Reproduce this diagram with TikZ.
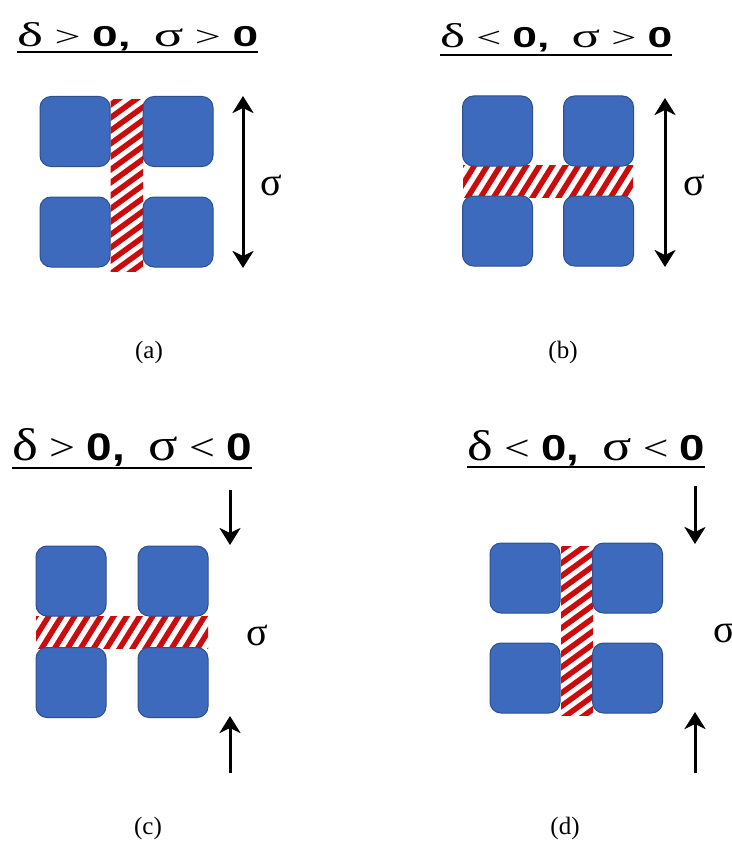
\documentclass[tikz,border=0pt]{standalone}
\usepackage{fontspec}
\setmainfont{Liberation Serif}
\newfontfamily\sansf{Liberation Sans}
\usetikzlibrary{arrows.meta}
\definecolor{sqfill}{RGB}{62,106,190}
\definecolor{sqdraw}{RGB}{45,80,140}
\definecolor{stripered}{RGB}{204,12,12}
\newcommand\mytitle[2]{\fontsize{31}{31}\selectfont δ\fontsize{26}{26}\selectfont\ #1\ {\sansf\bfseries 0,}\ \ \fontsize{31}{31}\selectfont σ\fontsize{26}{26}\selectfont\ #2\ {\sansf\bfseries 0}}
\tikzset{
  sq/.style={draw=sqdraw, fill=sqfill, line width=1pt, rounded corners=11pt, minimum width=70pt, minimum height=70pt, inner sep=0pt},
  ttl/.style={anchor=base west, inner sep=0pt},
  uline/.style={line width=2.2pt},
  arr/.style={line width=3pt, -{Stealth[length=17pt,width=21pt,inset=5pt]}},
  darr/.style={line width=3pt, {Stealth[length=17pt,width=21pt,inset=5pt]}-{Stealth[length=17pt,width=21pt,inset=5pt]}},
  sig/.style={font=\fontsize{40}{40}\selectfont, inner sep=0pt},
  lab/.style={font=\fontsize{25}{25}\selectfont, inner sep=0pt},
  stripeline/.style={line width=5.5pt, draw=stripered}
}
\begin{document}
\begin{tikzpicture}[x=1pt,y=-1pt]
\useasboundingbox[fill=white] (0,0) rectangle (731,848);

% ---------- (a) ----------
\node[ttl] (ta) at (17,47) {\resizebox{241pt}{24pt}{\mytitle{>}{>}}};
\draw[uline] ([yshift=-5pt]ta.base west) -- ([yshift=-5pt]ta.base east);
\begin{scope}
\clip (110.5,100) rectangle (143,271);
\foreach \k in {0,...,16} \draw[stripeline] (106,{100+13*\k+8}) -- (148,{100+13*\k+8-30.5});
\end{scope}
\node[sq] (a1) at (75,131.5) {};
\node[sq] (a2) at (178,131.5) {};
\node[sq] (a3) at (75,232) {};
\node[sq] (a4) at (178,232) {};
\coordinate (aT) at (243,96);
\coordinate (aB) at (243,268);
\draw[darr] (aT) -- (aB);
\node[sig] (sa) at (271,185) {σ};
\node[lab] (la) at (149,352) {(a)};

% ---------- (b) ----------
\node[ttl] (tb) at (440,48) {\resizebox{232pt}{24pt}{\mytitle{<}{>}}};
\draw[uline] ([yshift=-7pt]tb.base west) -- ([yshift=-7pt]tb.base east);
\begin{scope}
\clip (463,165) rectangle (633,197);
\foreach \k in {0,...,17} \draw[stripeline] ({440+13*\k},200) -- ({440+13*\k+23.7},162);
\end{scope}
\node[sq] (b1) at (497.5,131) {};
\node[sq] (b2) at (598.5,131) {};
\node[sq] (b3) at (497.5,231) {};
\node[sq] (b4) at (598.5,231) {};
\coordinate (bT) at (665,98);
\coordinate (bB) at (665,267);
\draw[darr] (bT) -- (bB);
\node[sig] (sb) at (694,185) {σ};
\node[lab] (lb) at (563,352) {(b)};

% ---------- (c) ----------
\node[ttl] (tc) at (12,460) {\resizebox{240pt}{32pt}{\mytitle{>}{<}}};
\draw[uline] ([yshift=-8pt]tc.base west) -- ([yshift=-8pt]tc.base east);
\begin{scope}
\clip (36,616) rectangle (208,648);
\foreach \k in {0,...,17} \draw[stripeline] ({14+13*\k},651) -- ({14+13*\k+23.7},613);
\end{scope}
\node[sq] (c1) at (71,581) {};
\node[sq] (c2) at (173,581) {};
\node[sq] (c3) at (71,682.5) {};
\node[sq] (c4) at (173,682.5) {};
\coordinate (cT0) at (230,490);
\coordinate (cT1) at (230,545);
\coordinate (cB0) at (230,773);
\coordinate (cB1) at (230,716);
\draw[arr] (cT0) -- (cT1);
\draw[arr] (cB0) -- (cB1);
\node[sig] (sc) at (257,635) {σ};
\node[lab] (lc) at (148,828) {(c)};

% ---------- (d) ----------
\node[ttl] (td) at (467,460) {\resizebox{238pt}{30pt}{\mytitle{<}{<}}};
\draw[uline] ([yshift=-7pt]td.base west) -- ([yshift=-7pt]td.base east);
\begin{scope}
\clip (561,546) rectangle (593,715);
\foreach \k in {0,...,16} \draw[stripeline] (556,{546+13*\k+8}) -- (598,{546+13*\k+8-30.5});
\end{scope}
\node[sq] (d1) at (525,578) {};
\node[sq] (d2) at (627.5,578) {};
\node[sq] (d3) at (525,678) {};
\node[sq] (d4) at (627.5,678) {};
\coordinate (dT0) at (695,486);
\coordinate (dT1) at (695,544);
\coordinate (dB0) at (695,773);
\coordinate (dB1) at (695,712);
\draw[arr] (dT0) -- (dT1);
\draw[arr] (dB0) -- (dB1);
\node[sig] (sd) at (724,632) {σ};
\node[lab] (ld) at (565,828) {(d)};
\end{tikzpicture}
\end{document}
